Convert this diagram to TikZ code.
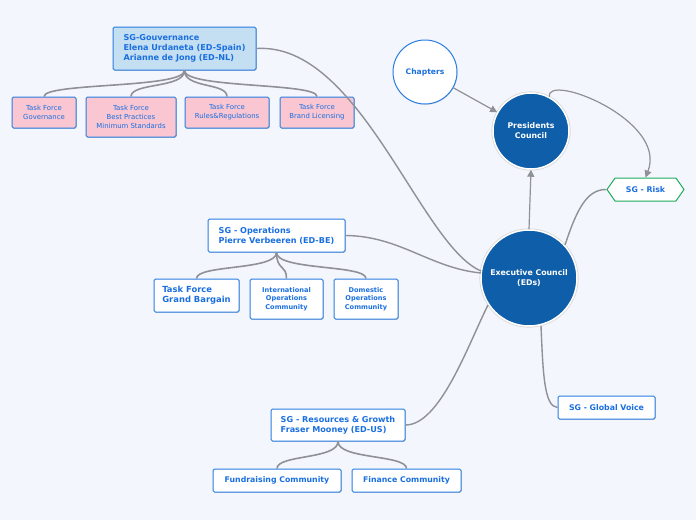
\documentclass[tikz,border=0pt]{standalone}
\usepackage{fontspec}
\setmainfont{DejaVu Sans}
\usetikzlibrary{shapes.geometric,shapes.symbols,arrows.meta,shadows}
\definecolor{bg}{HTML}{F3F6FD}
\definecolor{bord}{HTML}{2A7DE1}
\definecolor{txt}{HTML}{1A6FE0}
\definecolor{dark}{HTML}{0E5EA9}
\definecolor{pinkf}{HTML}{F9C6D1}
\definecolor{lblue}{HTML}{C4DEF2}
\definecolor{link}{HTML}{909097}
\definecolor{grn}{HTML}{1DAA5A}
\tikzset{
  box/.style={draw=bord, line width=1pt, fill=white, rounded corners=1.5pt, text=txt,
    font=\bfseries\fontsize{8.1}{10}\selectfont, align=left, inner sep=0pt,
    general shadow={fill=black!18, shadow xshift=0.8pt, shadow yshift=-0.9pt}},
  tfbox/.style={box, fill=pinkf, align=center, font=\fontsize{6.9}{9}\selectfont},
  smallbox/.style={box, align=center, font=\bfseries\fontsize{6.6}{8.5}\selectfont},
  darkcirc/.style={circle, fill=dark, draw=white, line width=1.5pt, text=white,
    font=\bfseries\fontsize{7.8}{10}\selectfont, align=center, inner sep=0pt,
    preaction={draw=black!15, line width=3.2pt}},
  link/.style={draw=link, line width=1.4pt},
  tree/.style={draw=link, line width=1.6pt},
  arr/.style={draw=link, line width=1.2pt, -{Triangle[length=7pt,width=7pt]}},
}
\begin{document}
\begin{tikzpicture}[x=1pt,y=-1pt]
\useasboundingbox[fill=bg] (0,0) rectangle (696,520);

\coordinate (ecGv) at (481,271);
\coordinate (ecOp) at (481,273);
\coordinate (ecRg) at (488,305);
\coordinate (ecB) at (541,326);
\coordinate (ecTR) at (565,245);

% nodes
\node[box, fill=lblue, minimum width=143pt, minimum height=43pt] (gov) at (184.5,48.5)
  {SG-Gouvernance\\Elena Urdaneta (ED-Spain)\\Arianne de Jong (ED-NL)};
\node[tfbox, minimum width=64pt, minimum height=31pt] (tf1) at (44,112.5) {Task Force\\Governance};
\node[tfbox, minimum width=90pt, minimum height=40pt] (tf2) at (131,117) {Task Force\\Best Practices\\Minimum Standards};
\node[tfbox, minimum width=84pt, minimum height=31pt] (tf3) at (227,112.5) {Task Force\\Rules\&Regulations};
\node[tfbox, minimum width=74pt, minimum height=31pt] (tf4) at (317,112.5) {Task Force\\Brand Licensing};

\node[circle, draw=bord, line width=1pt, fill=white, minimum size=64pt, inner sep=0pt, text=txt,
  font=\bfseries\fontsize{7.6}{9}\selectfont,
  general shadow={fill=black!15, shadow xshift=0.6pt, shadow yshift=-0.8pt}] (chap) at (425,72) {Chapters};
\node[darkcirc, minimum size=76pt] (pres) at (531,131) {Presidents\\Council};
\node[darkcirc, minimum size=96pt] (ec) at (529,278) {Executive Council\\(EDs)};

\node[shape=signal, signal to=west and east, signal pointer angle=110, draw=grn, line width=1pt,
  fill=white, text=txt, font=\bfseries\fontsize{7.8}{9}\selectfont, inner sep=0pt,
  minimum width=77pt, minimum height=23pt] (risk) at (645.5,189.5) {SG - Risk};

\node[box, minimum width=137pt, minimum height=33pt] (ops) at (276.5,235.5)
  {SG - Operations\\Pierre Verbeeren (ED-BE)};
\node[box, minimum width=85pt, minimum height=33pt, font=\bfseries\fontsize{8.4}{10}\selectfont] (tfgb) at (196.5,295.5)
  {Task Force\\Grand Bargain};
\node[smallbox, minimum width=73pt, minimum height=40pt] (intl) at (286.5,299)
  {International\\Operations\\Community};
\node[smallbox, minimum width=64pt, minimum height=40pt] (dom) at (366,299)
  {Domestic\\Operations\\Community};

\node[box, minimum width=97pt, minimum height=23pt, font=\bfseries\fontsize{7.8}{9}\selectfont] (gv) at (606.5,407.5) {SG - Global Voice};
\node[box, minimum width=134pt, minimum height=32pt] (rg) at (338,425)
  {SG - Resources \& Growth\\Fraser Mooney (ED-US)};
\node[box, minimum width=128pt, minimum height=23pt, font=\bfseries\fontsize{7.8}{9}\selectfont] (fund) at (277,480.5) {Fundraising Community};
\node[box, minimum width=109pt, minimum height=23pt, font=\bfseries\fontsize{7.8}{9}\selectfont] (fin) at (406.5,480.5) {Finance Community};

% connectors
\path[link] (gov.east) .. controls (360,42) and (420,245) .. (ecGv);
\path[link] (ops.east) .. controls (400,236) and (430,268) .. (ecOp);
\path[link] (rg.east) .. controls (440,425) and (468,345) .. (ecRg);
\path[link] (ecB) .. controls (543,372) and (544,407) .. (gv.west);
\path[link] (ecTR) .. controls (576,212) and (586,189) .. (risk.west);

\draw[arr] (ec.north) -- (pres.south);
\draw[arr] (chap) -- (pres);
\draw[arr] (pres.62) .. controls (546,72) and (668,120) .. (risk.north);

\foreach \c in {tf1,tf2,tf3,tf4}
  \path[tree] (gov.south) .. controls +(0,18) and +(0,-14) .. (\c.north);
\foreach \c in {tfgb,intl,dom}
  \path[tree] (ops.south) .. controls +(0,18) and +(0,-14) .. (\c.north);
\foreach \c in {fund,fin}
  \path[tree] (rg.south) .. controls +(0,18) and +(0,-14) .. (\c.north);
\end{tikzpicture}
\end{document}
